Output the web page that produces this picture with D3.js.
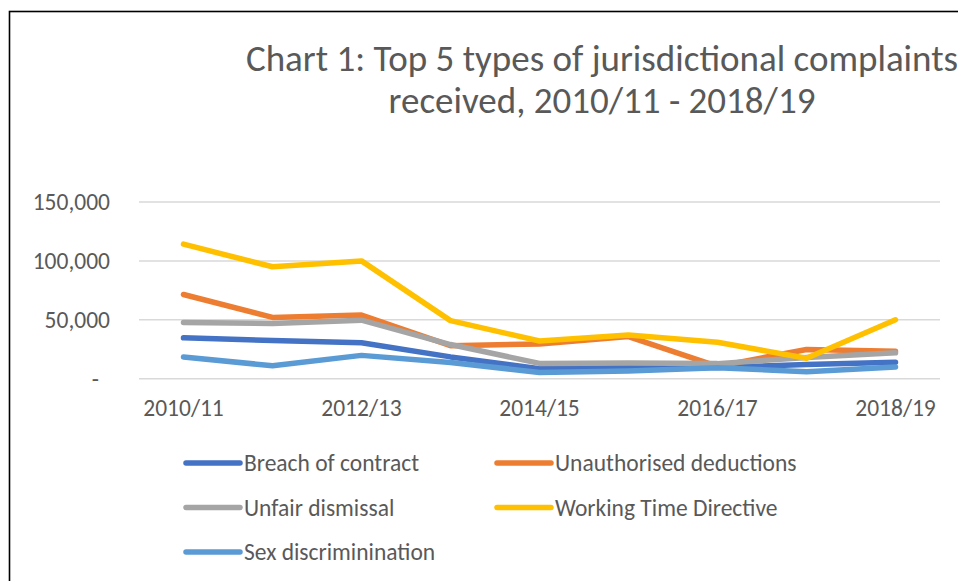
<!DOCTYPE html>
<html>
<head>
<meta charset="utf-8">
<script src="https://cdn.jsdelivr.net/npm/d3@7"></script>
<style>
  body { margin: 0; background: #fff; }
  svg { display: block; }
  text { font-family: Carlito, Calibri, Lato, sans-serif; fill: #595959; }
</style>
</head>
<body>
<div id="chart"></div>
<script>
// data
const years = ["2010/11", "2011/12", "2012/13", "2013/14", "2014/15", "2015/16", "2016/17", "2017/18", "2018/19"];
const breachOfContract = [34700, 32400, 30500, 18500, 8500, 9500, 9500, 12000, 14000];
const unauthorisedDeductions = [71500, 52000, 54000, 28000, 29500, 35800, 10500, 24800, 23300];
const unfairDismissal = [47800, 46900, 49700, 29000, 13000, 13300, 12800, 18000, 22000];
const workingTimeDirective = [114200, 95000, 100000, 49300, 32000, 37000, 31000, 17300, 50000];
const sexDiscrimination = [18400, 11000, 19800, 13800, 5300, 6500, 9300, 6000, 10000];
const yTicks = [0, 50000, 100000, 150000];

const seriesNames = ["Breach of contract", "Unauthorised deductions", "Unfair dismissal", "Working Time Directive", "Sex discriminination"];
const seriesValues = [breachOfContract, unauthorisedDeductions, unfairDismissal, workingTimeDirective, sexDiscrimination];
const colors = ["#4472C4", "#ED7D31", "#A5A5A5", "#FFC000", "#5B9BD5"];

const W = 958, H = 581;
const margin = { top: 202, right: 18, bottom: 202, left: 139 };
const width = W - margin.left - margin.right;
const height = H - margin.top - margin.bottom - 0.3;

const labelSize = "23.5px";

const svg = d3.select("#chart").append("svg")
    .attr("width", W)
    .attr("height", H);

// chart frame (only left and top edge are inside the picture)
svg.append("rect")
    .attr("x", 9.5).attr("y", 11.5)
    .attr("width", W + 50).attr("height", H + 50)
    .attr("fill", "none")
    .attr("stroke", "#000")
    .attr("stroke-width", 1.6);

// title
const title = svg.append("text")
    .attr("x", 602)
    .attr("y", 71)
    .attr("text-anchor", "middle")
    .style("font-size", "37px");
title.append("tspan").attr("x", 602).text("Chart 1: Top 5 types of jurisdictional complaints");
title.append("tspan").attr("x", 602).attr("dy", 42).text("received, 2010/11 - 2018/19");

const g = svg.append("g")
    .attr("transform", "translate(" + margin.left + "," + margin.top + ")");

const x = d3.scaleBand()
    .domain(years)
    .range([0, width]);

const y = d3.scaleLinear()
    .domain([0, 150000])
    .range([height, 0]);

// gridlines
g.append("g")
    .selectAll("line")
    .data(yTicks)
    .enter().append("line")
    .attr("x1", 0)
    .attr("x2", width)
    .attr("y1", d => y(d))
    .attr("y2", d => y(d))
    .attr("stroke", "#D9D9D9")
    .attr("stroke-width", 1.5);

// y axis labels
const yAxis = d3.axisLeft(y)
    .tickValues(yTicks)
    .tickSize(0)
    .tickPadding(29)
    .tickFormat(d => d === 0 ? "-" : d3.format(",")(d));

g.append("g")
    .attr("class", "y axis")
    .call(yAxis)
    .call(s => s.select(".domain").remove())
    .selectAll("text")
    .style("font-size", labelSize)
    .attr("fill", "#595959")
    .attr("dx", d => d === 0 ? -11 : 0);

// x axis labels, every second year
const xAxis = d3.axisBottom(x)
    .tickValues(years.filter((d, i) => i % 2 === 0))
    .tickSize(0)
    .tickPadding(21);

g.append("g")
    .attr("class", "x axis")
    .attr("transform", "translate(0," + height + ")")
    .call(xAxis)
    .call(s => s.select(".domain").remove())
    .selectAll("text")
    .style("font-size", labelSize)
    .attr("fill", "#595959");

// lines
const line = d3.line()
    .x((d, i) => x(years[i]) + x.bandwidth() / 2)
    .y(d => y(d));

g.selectAll(".series")
    .data(seriesValues)
    .enter().append("path")
    .attr("class", "series")
    .attr("d", d => line(d))
    .attr("fill", "none")
    .attr("stroke", (d, i) => colors[i])
    .attr("stroke-width", 5.5)
    .attr("stroke-linecap", "round")
    .attr("stroke-linejoin", "round");

// legend
const legend = svg.append("g")
    .attr("transform", "translate(186,463)");

const items = legend.selectAll(".item")
    .data(seriesNames)
    .enter().append("g")
    .attr("class", "item")
    .attr("transform", (d, i) => "translate(" + (i % 2) * 311 + "," + Math.floor(i / 2) * 44.5 + ")");

items.append("line")
    .attr("x1", 0).attr("x2", 54)
    .attr("stroke", (d, i) => colors[i])
    .attr("stroke-width", 5.5)
    .attr("stroke-linecap", "round");

items.append("text")
    .attr("x", 58)
    .attr("dy", "0.35em")
    .style("font-size", labelSize)
    .text(d => d);
</script>
</body>
</html>
